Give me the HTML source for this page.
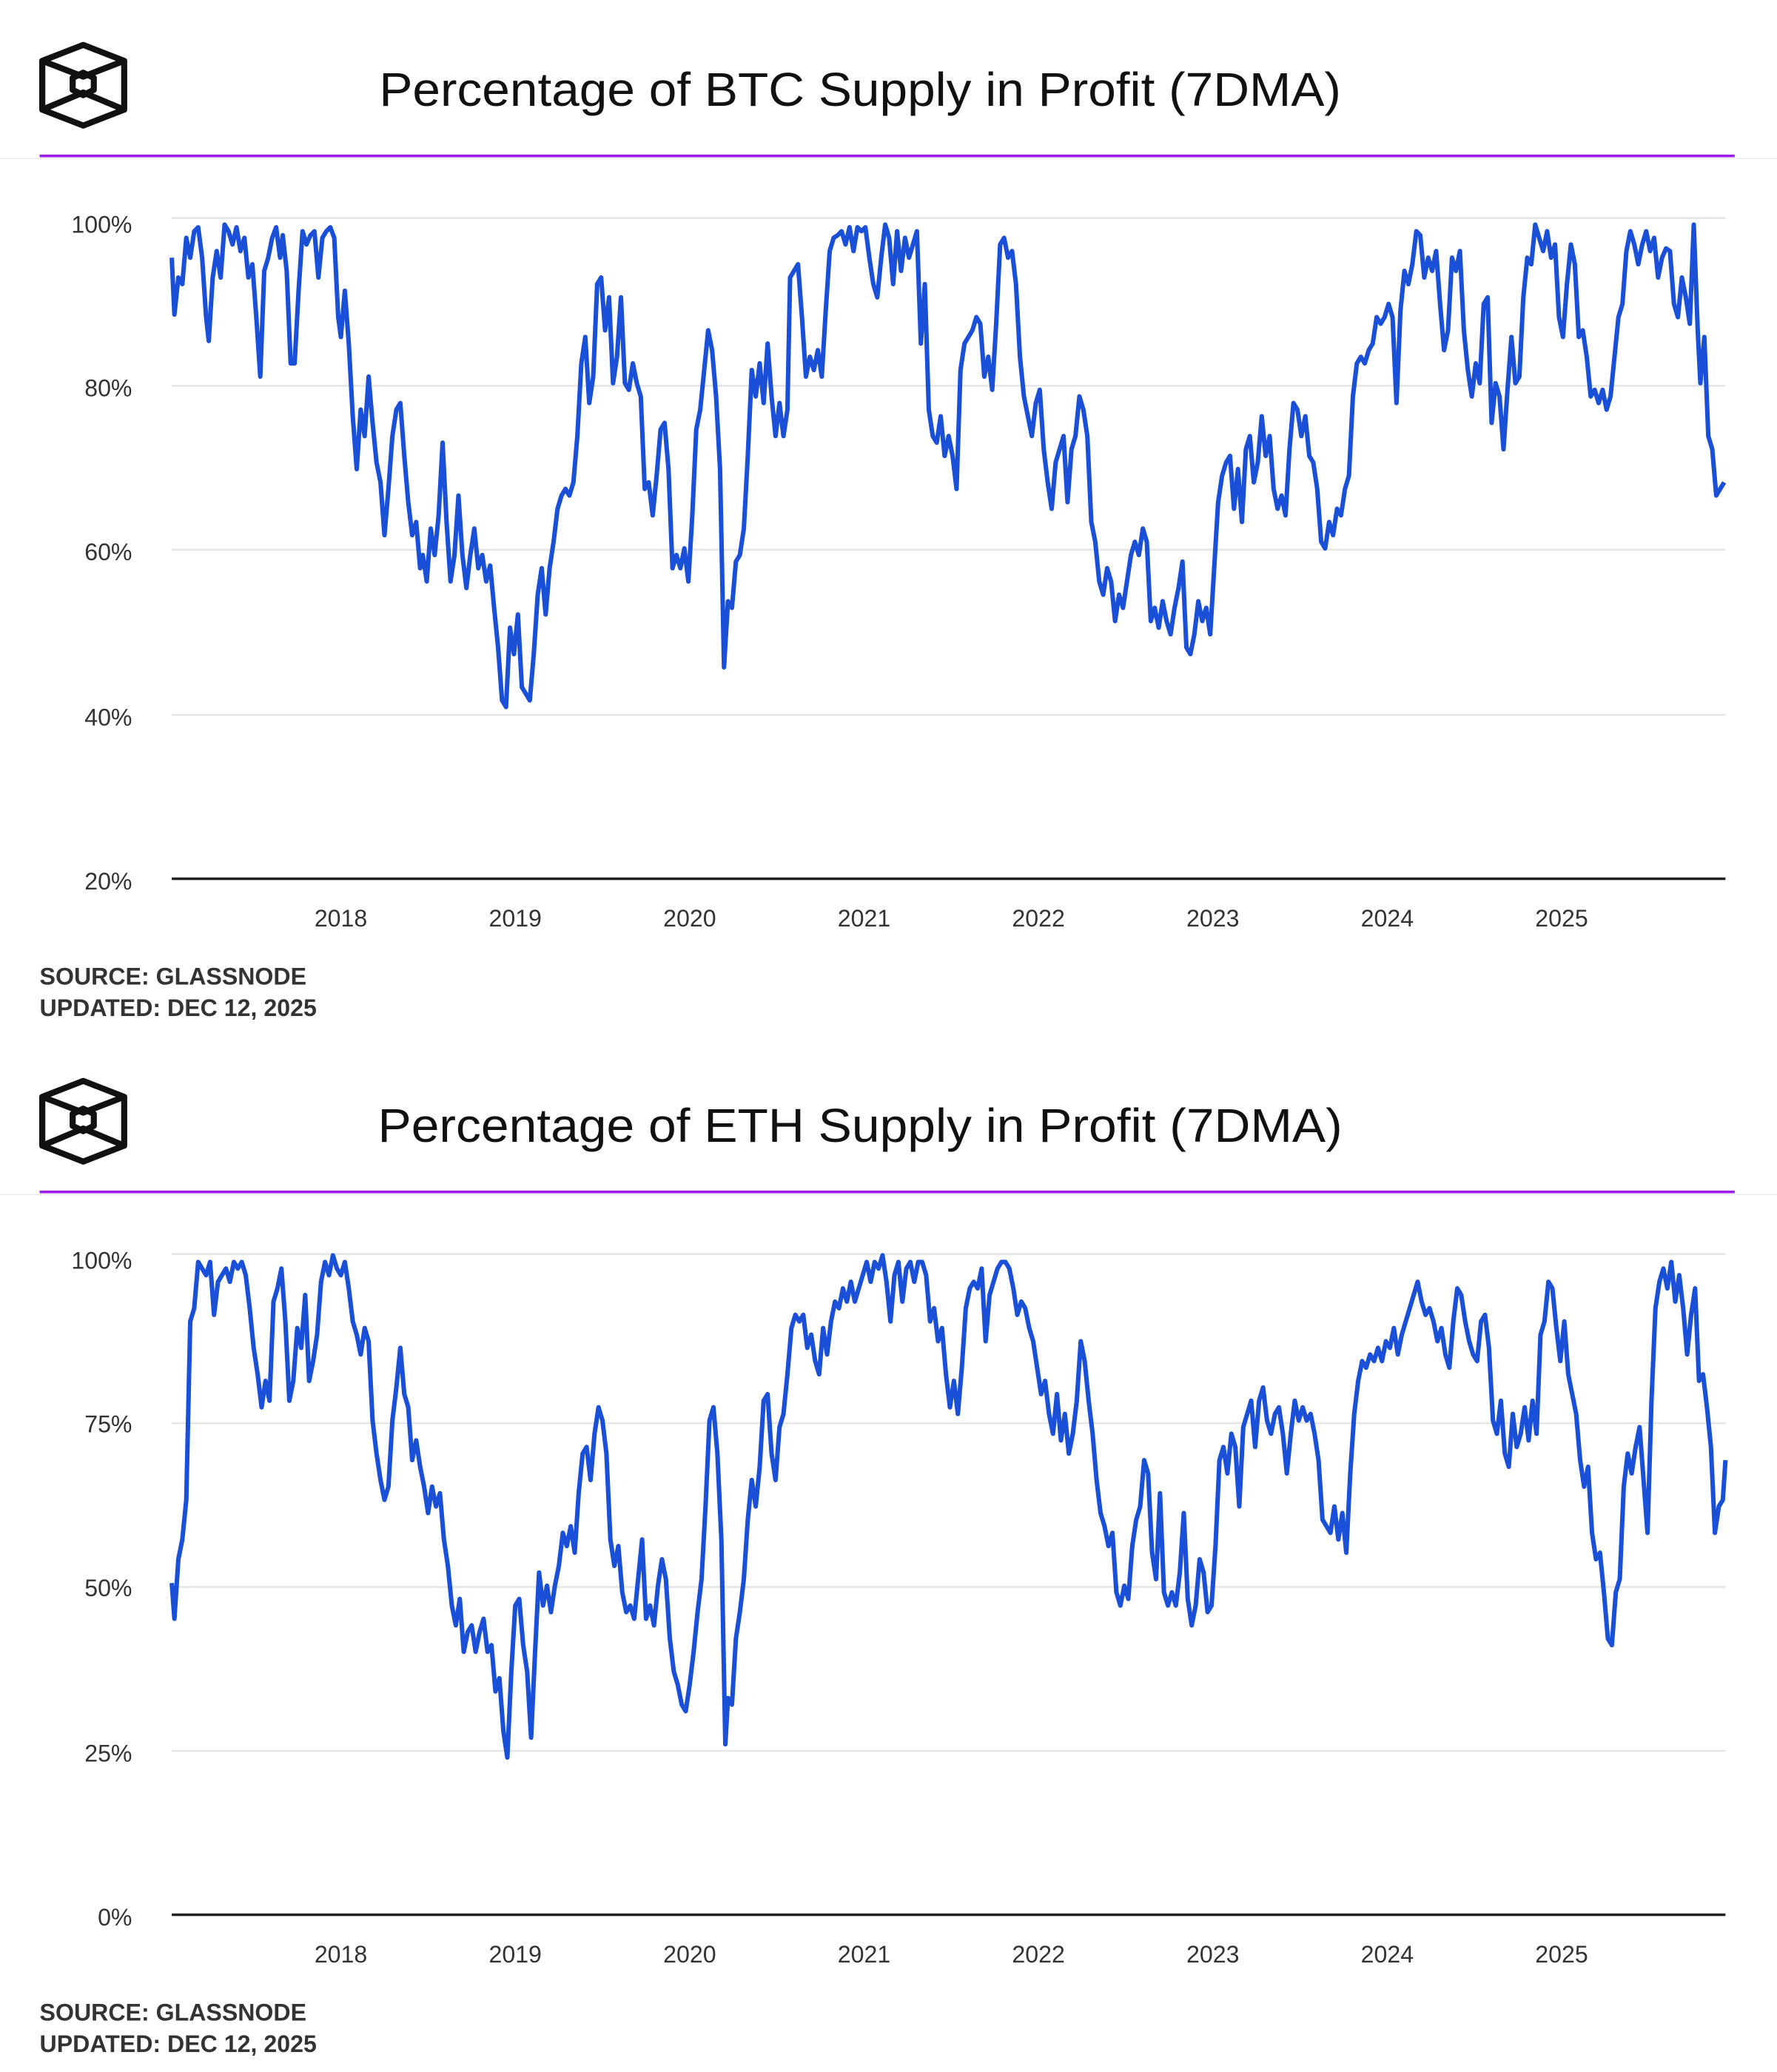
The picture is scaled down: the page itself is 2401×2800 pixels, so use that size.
<!DOCTYPE html>
<html><head><meta charset="utf-8"><style>
html,body{margin:0;padding:0;background:#fff;}
svg{display:block;}
text{font-family:"Liberation Sans",sans-serif;}
</style></head><body>
<svg width="2401" height="2800" viewBox="0 0 1345 1568" preserveAspectRatio="none" xmlns="http://www.w3.org/2000/svg">
<defs>
<g id="logo" fill="none" stroke="#111" stroke-width="4.6" stroke-linejoin="round">
<polygon points="63,34 94,46 94,83 63,95 32,83 32,46"/>
<polygon points="63,55 71,59 71,68 63,72 55,68 55,59"/>
<polyline points="32,46 63,58 94,46"/>
<polyline points="32,83 63,70 94,83"/>
</g>
</defs>
<!-- Chart 1 -->
<use href="#logo"/>
<text x="651" y="80" font-size="36" text-anchor="middle" fill="#111" textLength="728" lengthAdjust="spacingAndGlyphs">Percentage of BTC Supply in Profit (7DMA)</text>
<line x1="0" y1="120" x2="1345" y2="120" stroke="#eee" stroke-width="1"/>
<line x1="30" y1="118" x2="1313" y2="118" stroke="#9b1ee8" stroke-width="2"/>
<g stroke="#e6e6e6" stroke-width="1.5">
<line x1="130" y1="165" x2="1306" y2="165"/><line x1="130" y1="292" x2="1306" y2="292"/>
<line x1="130" y1="416" x2="1306" y2="416"/><line x1="130" y1="541" x2="1306" y2="541"/>
</g>
<line x1="130" y1="665" x2="1306" y2="665" stroke="#222" stroke-width="2"/>
<g font-size="18" fill="#333" text-anchor="end">
<text x="100" y="176">100%</text><text x="100" y="300">80%</text><text x="100" y="424">60%</text><text x="100" y="549">40%</text><text x="100" y="673">20%</text>
</g>
<g font-size="18" fill="#333" text-anchor="middle">
<text x="258" y="701">2018</text><text x="390" y="701">2019</text><text x="522" y="701">2020</text><text x="654" y="701">2021</text><text x="786" y="701">2022</text><text x="918" y="701">2023</text><text x="1050" y="701">2024</text><text x="1182" y="701">2025</text>
</g>
<g font-size="18" font-weight="bold" fill="#333">
<text x="30" y="745">SOURCE: GLASSNODE</text><text x="30" y="769">UPDATED: DEC 12, 2025</text>
</g>
<polyline fill="none" stroke="#1a4fd8" stroke-width="3.4" stroke-linejoin="round" points="130,195 132,238 135,210 138,215 141,180 144,195 147,175 150,172 153,195 156,240 158,258 161,210 164,190 167,210 170,170 173,175 176,185 179,172 182,190 185,180 188,210 191,200 194,240 197,285 200,205 203,195 206,180 209,172 212,195 214,178 217,205 220,275 223,275 226,220 229,175 232,185 235,178 238,175 241,210 244,180 247,175 250,172 253,180 256,240 258,255 261,220 264,260 267,315 270,355 273,310 276,330 279,285 282,320 285,350 288,365 291,405 294,370 297,330 300,310 303,305 306,345 309,380 312,405 315,395 318,430 320,420 323,440 326,400 329,420 332,390 335,335 338,395 341,440 344,420 347,375 350,420 353,445 356,420 359,400 362,430 365,420 368,440 371,428 374,460 377,490 380,530 383,535 386,475 389,495 392,465 395,520 398,525 401,530 404,495 407,450 410,430 413,465 416,430 419,410 422,385 425,375 428,370 431,375 434,365 437,330 440,275 443,255 446,305 449,285 452,215 455,210 458,250 461,225 464,290 467,270 470,225 473,290 476,295 479,275 482,290 485,300 488,370 491,365 494,390 497,360 500,325 503,320 506,355 509,430 512,420 515,430 518,415 521,440 524,390 527,325 530,310 533,280 536,250 539,265 542,300 545,355 548,505 551,455 554,460 557,425 560,420 563,400 566,345 569,280 572,300 575,275 578,305 581,260 584,300 587,330 590,305 593,330 596,310 598,210 601,205 604,200 607,240 610,285 613,270 616,280 619,265 622,285 625,235 628,190 631,180 634,178 637,175 640,185 643,172 646,190 649,172 652,175 655,172 658,195 661,215 664,225 667,195 670,170 673,180 676,215 679,175 682,205 685,180 688,195 691,185 694,175 697,260 700,215 703,310 706,330 709,335 712,315 715,345 718,330 721,345 724,370 727,280 730,260 733,255 736,250 739,240 742,245 745,285 748,270 751,295 754,245 757,185 760,180 763,195 766,190 769,215 772,270 775,300 778,315 781,330 784,305 787,295 790,340 793,365 796,385 799,350 802,340 805,330 808,380 811,340 814,330 817,300 820,310 823,330 826,395 829,410 832,440 835,450 838,430 841,440 844,470 847,450 850,460 853,440 856,420 859,410 862,420 865,400 868,410 871,470 874,460 877,475 880,455 883,470 886,480 889,460 892,445 895,425 898,490 901,495 904,480 907,455 910,470 913,460 916,480 919,430 922,380 925,360 928,350 931,345 934,385 937,355 940,395 943,340 946,330 949,365 952,350 955,315 958,345 961,330 964,370 967,385 970,375 973,390 976,340 979,305 982,310 985,330 988,315 991,345 994,350 997,370 1000,410 1003,415 1006,395 1009,405 1012,385 1015,390 1018,370 1021,360 1024,300 1027,275 1030,270 1033,275 1036,265 1039,260 1042,240 1045,245 1048,240 1051,230 1054,240 1057,305 1060,235 1063,205 1066,215 1069,200 1072,175 1075,178 1078,210 1081,195 1084,205 1087,190 1090,230 1093,265 1096,250 1099,195 1102,205 1105,190 1108,250 1111,280 1114,300 1117,275 1120,290 1123,230 1126,225 1129,320 1132,290 1135,300 1138,340 1141,295 1144,255 1147,290 1150,285 1153,225 1156,195 1159,200 1162,170 1165,180 1168,190 1171,175 1174,195 1177,185 1180,240 1183,255 1186,215 1189,185 1192,200 1195,255 1198,250 1201,270 1204,300 1207,295 1210,305 1213,295 1216,310 1219,300 1222,270 1225,240 1228,230 1231,190 1234,175 1237,185 1240,200 1243,185 1246,175 1249,190 1252,180 1255,210 1258,195 1261,188 1264,190 1267,230 1270,240 1273,210 1276,225 1279,245 1282,170 1285,250 1287,290 1290,255 1293,330 1296,340 1299,375 1302,370 1305,365"/>

<!-- Chart 2 -->
<use href="#logo" y="784"/>
<text x="651" y="864" font-size="36" text-anchor="middle" fill="#111" textLength="730" lengthAdjust="spacingAndGlyphs">Percentage of ETH Supply in Profit (7DMA)</text>
<line x1="0" y1="904" x2="1345" y2="904" stroke="#eee" stroke-width="1"/>
<line x1="30" y1="902" x2="1313" y2="902" stroke="#9b1ee8" stroke-width="2"/>
<g stroke="#e6e6e6" stroke-width="1.5">
<line x1="130" y1="949" x2="1306" y2="949"/><line x1="130" y1="1077" x2="1306" y2="1077"/>
<line x1="130" y1="1201" x2="1306" y2="1201"/><line x1="130" y1="1325" x2="1306" y2="1325"/>
</g>
<line x1="130" y1="1449" x2="1306" y2="1449" stroke="#222" stroke-width="2"/>
<g font-size="18" fill="#333" text-anchor="end">
<text x="100" y="960">100%</text><text x="100" y="1084">75%</text><text x="100" y="1208">50%</text><text x="100" y="1333">25%</text><text x="100" y="1457">0%</text>
</g>
<g font-size="18" fill="#333" text-anchor="middle">
<text x="258" y="1485">2018</text><text x="390" y="1485">2019</text><text x="522" y="1485">2020</text><text x="654" y="1485">2021</text><text x="786" y="1485">2022</text><text x="918" y="1485">2023</text><text x="1050" y="1485">2024</text><text x="1182" y="1485">2025</text>
</g>
<g font-size="18" font-weight="bold" fill="#333">
<text x="30" y="1529">SOURCE: GLASSNODE</text><text x="30" y="1553">UPDATED: DEC 12, 2025</text>
</g>
<polyline fill="none" stroke="#1a4fd8" stroke-width="3.4" stroke-linejoin="round" points="130,1198 132,1225 135,1180 138,1165 141,1135 144,1000 147,990 150,955 153,960 156,965 159,955 162,995 165,970 168,965 171,960 174,970 177,955 180,960 183,955 186,965 189,990 192,1020 195,1040 198,1065 201,1045 204,1060 207,985 210,975 213,960 216,1000 219,1060 222,1045 225,1005 228,1020 231,980 234,1045 237,1030 240,1010 243,970 246,955 249,965 252,950 255,960 258,965 261,955 264,975 267,1000 270,1010 273,1025 276,1005 279,1015 282,1075 285,1100 288,1120 291,1135 294,1125 297,1075 300,1050 303,1020 306,1055 309,1065 312,1105 315,1090 318,1110 321,1125 324,1145 327,1125 330,1140 333,1130 336,1165 339,1185 342,1215 345,1230 348,1210 351,1250 354,1235 357,1230 360,1250 363,1235 366,1225 369,1250 372,1245 375,1280 378,1270 381,1310 384,1330 387,1265 390,1215 393,1210 396,1245 399,1265 402,1315 405,1250 408,1190 411,1215 414,1200 417,1220 420,1200 423,1185 426,1160 429,1170 432,1155 435,1175 438,1130 441,1100 444,1095 447,1120 450,1085 453,1065 456,1075 459,1100 462,1165 465,1185 468,1170 471,1205 474,1220 477,1215 480,1225 483,1195 486,1165 489,1225 492,1215 495,1230 498,1200 501,1180 504,1195 507,1240 510,1265 513,1275 516,1290 519,1295 522,1275 525,1250 528,1220 531,1195 534,1140 537,1075 540,1065 543,1100 546,1165 549,1320 551,1285 554,1290 557,1240 560,1220 563,1195 566,1150 569,1120 572,1140 575,1110 578,1060 581,1055 584,1100 587,1120 590,1080 593,1070 596,1040 599,1005 602,995 605,1000 608,995 611,1020 614,1010 617,1030 620,1040 623,1005 626,1025 629,1000 632,985 635,990 638,975 641,985 644,970 647,985 650,975 653,965 656,955 659,970 662,955 665,960 668,950 671,970 674,1000 677,965 680,955 683,985 686,960 689,955 692,970 695,955 698,955 701,965 704,1000 707,990 710,1015 713,1005 716,1040 719,1065 722,1045 725,1070 728,1035 731,990 734,975 737,970 740,975 743,960 746,1015 749,980 752,970 755,960 758,955 761,955 764,960 767,975 770,995 773,985 776,990 779,1005 782,1015 785,1035 788,1055 791,1045 794,1070 797,1085 800,1055 803,1090 806,1070 809,1100 812,1085 815,1060 818,1015 821,1030 824,1060 827,1085 830,1120 833,1145 836,1155 839,1170 842,1160 845,1205 848,1215 851,1200 854,1210 857,1170 860,1150 863,1140 866,1105 869,1115 872,1175 875,1195 878,1130 881,1205 884,1215 887,1205 890,1215 893,1190 896,1145 899,1210 902,1230 905,1215 908,1180 911,1190 914,1220 917,1215 920,1170 923,1105 926,1095 929,1115 932,1085 935,1095 938,1140 941,1080 944,1070 947,1060 950,1095 953,1060 956,1050 959,1075 962,1085 965,1070 968,1065 971,1085 974,1115 977,1085 980,1060 983,1075 986,1065 989,1075 992,1070 995,1085 998,1105 1001,1150 1004,1155 1007,1160 1010,1140 1013,1165 1016,1145 1019,1175 1022,1115 1025,1070 1028,1045 1031,1030 1034,1035 1037,1025 1040,1030 1043,1020 1046,1030 1049,1015 1052,1020 1055,1005 1058,1025 1061,1010 1064,1000 1067,990 1070,980 1073,970 1076,985 1079,995 1082,990 1085,1000 1088,1015 1091,1005 1094,1025 1097,1035 1100,1000 1103,975 1106,980 1109,1000 1112,1015 1115,1025 1118,1030 1121,1000 1124,995 1127,1020 1130,1075 1133,1085 1136,1060 1139,1100 1142,1110 1145,1070 1148,1095 1151,1085 1154,1065 1157,1090 1160,1060 1163,1085 1166,1010 1169,1000 1172,970 1175,975 1178,1005 1181,1030 1184,1000 1187,1040 1190,1055 1193,1070 1196,1105 1199,1125 1202,1110 1205,1160 1208,1180 1211,1175 1214,1205 1217,1240 1220,1245 1223,1205 1226,1195 1229,1125 1232,1100 1235,1115 1238,1095 1241,1080 1244,1120 1247,1160 1250,1060 1253,990 1256,970 1259,960 1262,975 1265,955 1268,985 1271,965 1274,990 1277,1025 1280,995 1283,975 1286,1045 1289,1040 1292,1065 1295,1095 1298,1160 1301,1140 1304,1135 1306,1105"/>
</svg>
</body></html>
